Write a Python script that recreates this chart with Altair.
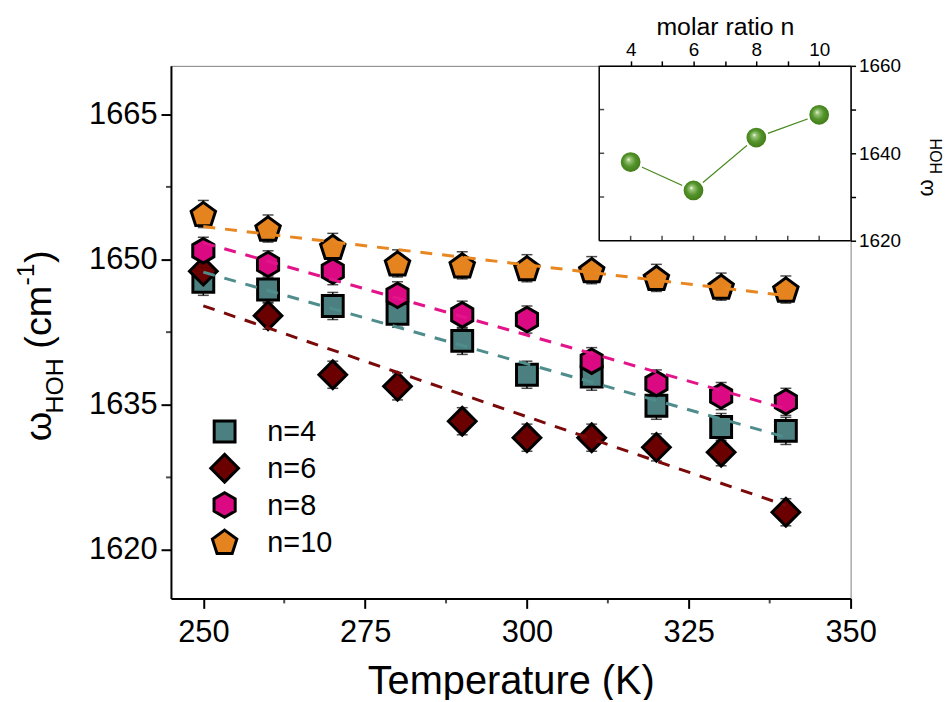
import altair as alt
import pandas as pd

# ---------------- data ----------------
temps = [250, 260, 270, 280, 290, 300, 310, 320, 330, 340]
series_names = ["n=4", "n=6", "n=8", "n=10"]

w_n4 = [1647.7, 1646.9, 1645.2, 1644.4, 1641.6, 1638.1, 1637.9, 1634.9, 1632.7, 1632.3]
w_n6 = [1648.8, 1644.2, 1638.1, 1636.9, 1633.3, 1631.6, 1631.6, 1630.6, 1630.1, 1623.9]
w_n8 = [1650.9, 1649.5, 1648.8, 1646.3, 1644.3, 1643.8, 1639.5, 1637.2, 1635.9, 1635.3]
w_n10 = [1654.7, 1653.2, 1651.3, 1649.6, 1649.4, 1649.1, 1648.9, 1648.1, 1647.2, 1646.9]

err_n4 = [1.4, 1.4, 1.4, 1.4, 1.4, 1.4, 1.4, 1.4, 1.4, 1.4]
err_n6 = [1.4, 1.4, 1.4, 1.4, 1.4, 1.4, 1.4, 1.4, 1.4, 1.4]
err_n8 = [1.4, 1.4, 1.4, 1.4, 1.4, 1.4, 1.4, 1.4, 1.4, 1.4]
err_n10 = [1.4, 1.4, 1.4, 1.4, 1.4, 1.4, 1.4, 1.4, 1.4, 1.4]

# inset
molar_n = [4, 6, 8, 10]
inset_w = [1638.0, 1631.5, 1643.6, 1648.8]

# ticks / labels
x_ticks = [250, 275, 300, 325, 350]
x_minor = [262.5, 287.5, 312.5, 337.5]
y_ticks = [1620, 1635, 1650, 1665]
y_minor = [1627.5, 1642.5, 1657.5]
inset_x_ticks = [4, 5, 6, 7, 8, 9, 10]
inset_y_ticks = [1620, 1630, 1640, 1650, 1660]
inset_left_ticks = [1630, 1640, 1650]
legend_rows = [0, 1, 2, 3]

# ---------------- styles ----------------
FONT = "Liberation Sans"
fill_colors = ["#4c8080", "#6b0000", "#dc0a82", "#e5831f"]
line_colors = ["#4f8c8c", "#7a0a0a", "#e3148a", "#e8861f"]
shape_paths = [
    "M-0.7,-0.7L0.7,-0.7L0.7,0.7L-0.7,0.7Z",
    "M0,-0.93L0.93,0L0,0.93L-0.93,0Z",
    "M0,-0.82L0.71,-0.41L0.71,0.41L0,0.82L-0.71,0.41L-0.71,-0.41Z",
    "M0,-0.78L0.82,-0.18L0.51,0.78L-0.51,0.78L-0.82,-0.18Z",
]

rows = []
for name, ws, es in zip(series_names, [w_n4, w_n6, w_n8, w_n10],
                        [err_n4, err_n6, err_n8, err_n10]):
    for t, w, e in zip(temps, ws, es):
        rows.append({"series": name, "T": t, "w": w, "lo": w - e, "hi": w + e})
df = pd.DataFrame(rows)

xscale = alt.Scale(domain=[245, 350], nice=False, zero=False)
yscale = alt.Scale(domain=[1615, 1670], nice=False, zero=False)

x_axis = alt.Axis(values=x_ticks, format="d", title="Temperature (K)", titleFont=FONT,
                  titleFontSize=40, titleFontWeight="normal", titleColor="black",
                  titlePadding=15, labelFont=FONT, labelFontSize=31, labelColor="black",
                  labelPadding=9, tickSize=10, tickWidth=2, tickColor="black",
                  domainColor="black", domainWidth=2, grid=False, labelFlush=False)
y_axis = alt.Axis(values=y_ticks, format="d", title=None, labelFont=FONT, labelFontSize=31,
                  labelColor="black", labelPadding=4, tickSize=10, tickWidth=2,
                  tickColor="black", domainColor="black", domainWidth=2, grid=False,
                  labelFlush=False)

X = alt.X("T:Q", scale=xscale, axis=x_axis)
Y = alt.Y("w:Q", scale=yscale, axis=y_axis)

fill_scale = alt.Scale(domain=series_names, range=fill_colors)
shape_scale = alt.Scale(domain=series_names, range=shape_paths)

base = alt.Chart(df)

err_rule = base.mark_rule(color="black", strokeWidth=1.5).encode(
    x=X, y=alt.Y("lo:Q", scale=yscale, axis=y_axis), y2="hi:Q")
cap_lo = base.mark_tick(orient="horizontal", size=11, thickness=1.5, color="black").encode(
    x=X, y=alt.Y("lo:Q", scale=yscale, axis=y_axis))
cap_hi = base.mark_tick(orient="horizontal", size=11, thickness=1.5, color="black").encode(
    x=X, y=alt.Y("hi:Q", scale=yscale, axis=y_axis))

points = base.mark_point(filled=True, size=900, stroke="black", strokeWidth=3,
                         opacity=1).encode(
    x=X, y=Y,
    fill=alt.Fill("series:N", scale=fill_scale, legend=None),
    shape=alt.Shape("series:N", scale=shape_scale, legend=None),
)

fits = base.transform_regression("T", "w", groupby=["series"], extent=[250, 340]).mark_line(
    strokeDash=[12, 10], strokeWidth=3).encode(
    x=X, y=Y,
    stroke=alt.Stroke("series:N", scale=alt.Scale(domain=series_names, range=line_colors),
                      legend=None),
    detail="series:N",
)

y_minor_ticks = alt.Chart(pd.DataFrame({"w": y_minor})).mark_tick(
    orient="horizontal", size=5, thickness=2, color="black", xOffset=-2.5).encode(
    x=alt.datum(245, scale=xscale), y=Y)
x_minor_ticks = alt.Chart(pd.DataFrame({"T": x_minor})).mark_tick(
    orient="vertical", size=5, thickness=2, color="black", yOffset=2.5).encode(
    x=X, y=alt.datum(1615, scale=yscale))

one = pd.DataFrame({"k": [0]})


def label(txt, x, y, size, angle=270):
    return alt.Chart(one).mark_text(text=txt, font=FONT, fontSize=size, angle=angle,
                                    align="center", baseline="middle",
                                    color="black").encode(
        x=alt.value(x), y=alt.value(y))


titles = [
    label("ω", -132, 363, 38),
    label("HOH", -117, 322, 25),
    label("(cm", -132, 253, 38),
    label("-1", -146, 210, 25),
    label(")", -132, 192, 38),
    label("ω", 760, 123, 22),
    label("HOH", 771, 91, 16),
]

main = alt.layer(err_rule, cap_lo, cap_hi, points, fits, y_minor_ticks, x_minor_ticks,
                 *titles)

# ---------------- legend (drawn as its own layer) ----------------
legend_df = pd.DataFrame({"series": series_names, "row": legend_rows})
LY = alt.Y("row:Q", scale=alt.Scale(domain=[0, 3], range=[368, 479], nice=False,
                                    zero=False), axis=None)
leg_sym = alt.Chart(legend_df).mark_point(filled=True, size=900, stroke="black",
                                          strokeWidth=3, opacity=1).encode(
    x=alt.value(54), y=LY,
    fill=alt.Fill("series:N", scale=fill_scale, legend=None),
    shape=alt.Shape("series:N", scale=shape_scale, legend=None),
)
leg_txt = alt.Chart(legend_df).mark_text(font=FONT, fontSize=29, align="left",
                                         baseline="middle", color="black", dy=1).encode(
    x=alt.value(97), y=LY, text="series:N")
legend_layer = alt.layer(leg_sym, leg_txt)

# ---------------- inset ----------------
inset_df = pd.DataFrame({"n": molar_n, "wi": inset_w})
ixscale = alt.Scale(domain=[3, 11], range=[431, 684], nice=False, zero=False)
iyscale = alt.Scale(domain=[1620, 1660], range=[176, 0], nice=False, zero=False)
ix_axis = alt.Axis(orient="top", values=inset_x_ticks, format="d",
                   labelExpr="datum.value % 2 == 0 ? datum.label : ''",
                   title="molar ratio n", titleFont=FONT, titleFontSize=25,
                   titleFontWeight="normal", titleColor="black", titlePadding=2,
                   labelFont=FONT, labelFontSize=19, labelColor="black", labelPadding=1,
                   tickSize=5, tickWidth=1.5, tickColor="black", domainColor="black",
                   domainWidth=1.5, grid=False, labelFlush=False)
iy_axis = alt.Axis(orient="right", values=inset_y_ticks, format="d",
                   labelExpr="datum.value % 20 == 0 ? datum.label : ''",
                   title=None, labelFont=FONT, labelFontSize=19, labelColor="black",
                   labelPadding=3, tickSize=5, tickWidth=1.5, tickColor="black",
                   domainColor="black", domainWidth=1.5, grid=False, labelFlush=False)
IX = alt.X("n:Q", scale=ixscale, axis=ix_axis)
IY = alt.Y("wi:Q", scale=iyscale, axis=iy_axis)

sphere = alt.RadialGradient(
    gradient="radial", x1=0.4, y1=0.38, r1=0, x2=0.5, y2=0.5, r2=0.55,
    stops=[alt.GradientStop(color="#ffffff", offset=0),
           alt.GradientStop(color="#9cc77a", offset=0.15),
           alt.GradientStop(color="#53922a", offset=0.5),
           alt.GradientStop(color="#3a7410", offset=1)])

ibase = alt.Chart(inset_df)
iline = ibase.mark_line(color="#4a8a1f", strokeWidth=1.2).encode(x=IX, y=IY)
ipts = ibase.mark_point(filled=True, size=500, shape="circle", fill=sphere,
                        stroke="white", strokeWidth=2.5, opacity=1).encode(x=IX, y=IY)

iframe_bottom = alt.Chart(one).mark_rule(color="black", strokeWidth=1.5).encode(
    x=alt.datum(3), x2=alt.datum(11), y=alt.datum(1620))
iframe_left = alt.Chart(one).mark_rule(color="black", strokeWidth=1.5).encode(
    x=alt.datum(3), y=alt.datum(1620), y2=alt.datum(1660))
ibt = alt.Chart(pd.DataFrame({"n": inset_x_ticks})).mark_tick(
    orient="vertical", size=5, thickness=1.5, color="black", yOffset=-2.5).encode(
    x=IX, y=alt.datum(1620))
ilt = alt.Chart(pd.DataFrame({"wi": inset_left_ticks})).mark_tick(
    orient="horizontal", size=5, thickness=1.5, color="black", xOffset=2.5).encode(
    x=alt.datum(3), y=IY)

inset = alt.layer(iline, ipts, iframe_bottom, iframe_left, ibt, ilt)

chart = alt.layer(main, inset, legend_layer).resolve_scale(
    x="independent", y="independent"
).properties(
    width=684, height=536,
    autosize=alt.AutoSizeParams(type="none"),
    padding={"left": 164, "top": 56, "right": 94, "bottom": 100},
).configure_view(stroke="#808080", strokeWidth=1)

chart.save("out.html", embed_options={"renderer": "svg", "actions": False})
